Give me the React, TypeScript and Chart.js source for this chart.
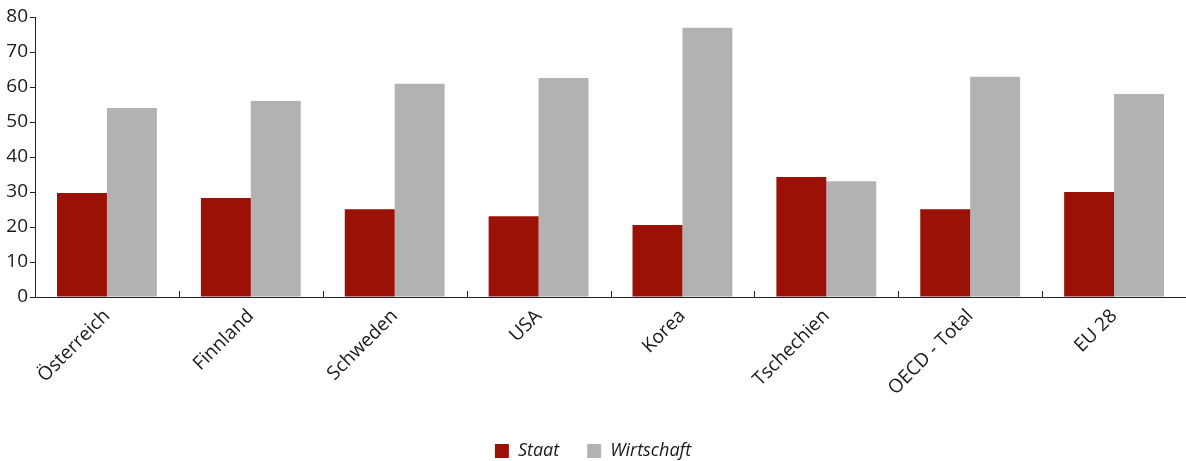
import React, { useEffect, useRef } from "react";
import { Chart, registerables } from "chart.js";

Chart.register(...registerables);

const categories = ["Österreich", "Finnland", "Schweden", "USA", "Korea", "Tschechien", "OECD - Total", "EU 28"];
const staat = [29.7, 28.3, 25.1, 23.1, 20.6, 34.3, 25.1, 30.0];
const wirtschaft = [54.0, 56.0, 60.9, 62.6, 76.9, 33.1, 62.9, 58.0];
const yTicks = [0, 10, 20, 30, 40, 50, 60, 70, 80];

const FONT = "'Open Sans', 'DejaVu Sans', sans-serif";

const innerTicks = {
  id: "innerTicks",
  afterDraw(chart: any) {
    const x = chart.scales.x;
    const area = chart.chartArea;
    const ctx = chart.ctx;
    ctx.save();
    ctx.strokeStyle = "#222";
    ctx.lineWidth = 1;
    for (let i = 1; i < categories.length; i++) {
      const px = Math.round((x.getPixelForValue(i - 1) + x.getPixelForValue(i)) / 2) + 0.5;
      ctx.beginPath();
      ctx.moveTo(px, area.bottom - 6);
      ctx.lineTo(px, area.bottom);
      ctx.stroke();
    }
    ctx.restore();
  },
};

export default function App() {
  const ref = useRef<HTMLCanvasElement | null>(null);
  useEffect(() => {
    document.body.style.margin = "0";
    const chart = new Chart(ref.current!, {
      type: "bar",
      data: {
        labels: categories,
        datasets: [
          { label: "Staat", data: staat, backgroundColor: "#9B1106" },
          { label: "Wirtschaft", data: wirtschaft, backgroundColor: "#B2B2B2" },
        ],
      },
      plugins: [innerTicks],
      options: {
        animation: false,
        responsive: false,
        maintainAspectRatio: false,
        layout: { padding: { top: 17, right: 0, bottom: -9, left: 0 } },
        datasets: { bar: { categoryPercentage: 0.694, barPercentage: 1.0 } },
        plugins: {
          tooltip: { enabled: false },
          legend: {
            position: "bottom",
            labels: {
              boxWidth: 14,
              boxHeight: 14,
              padding: 28,
              color: "#1a1a1a",
              font: { family: FONT, size: 18, style: "italic" },
            },
          },
        },
        scales: {
          x: {
            grid: { display: false },
            border: { display: true, color: "#222", width: 1 },
            ticks: {
              color: "#1a1a1a",
              font: { family: FONT, size: 19 },
              maxRotation: 45,
              minRotation: 45,
              padding: 0,
            },
            afterFit: (s: any) => {
              s.height = 117;
            },
          },
          y: {
            min: 0,
            max: 80,
            afterBuildTicks: (s: any) => {
              s.ticks = yTicks.map((v) => ({ value: v }));
            },
            grid: { drawOnChartArea: false, tickLength: 5, color: "#222" },
            border: { display: true, color: "#222", width: 1 },
            ticks: {
              color: "#1a1a1a",
              font: { family: FONT, size: 19 },
              padding: 2,
            },
            afterFit: (s: any) => {
              s.width = 35;
            },
          },
        },
      },
    });
    return () => chart.destroy();
  }, []);
  return (
    <div style={{ position: "absolute", left: 0, top: 0, width: 1186, height: 461 }}>
      <canvas ref={ref} width={1186} height={461} style={{ width: 1186, height: 461 }} />
    </div>
  );
}
